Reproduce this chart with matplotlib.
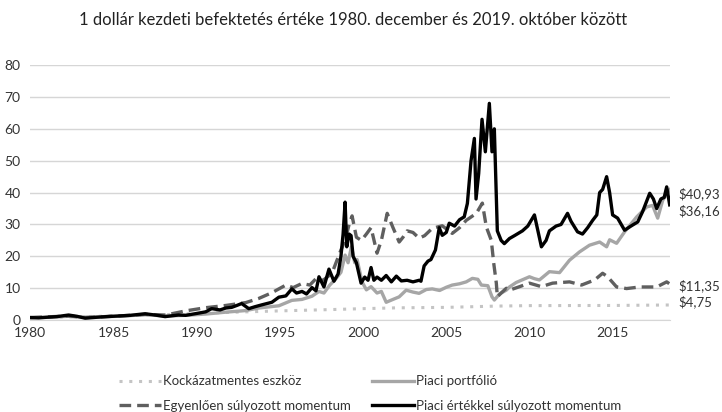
import numpy as np
import matplotlib
matplotlib.use("Agg")
import matplotlib.pyplot as plt

plt.rcParams['font.family'] = ['Lato', 'DejaVu Sans']

# --- adatok (leolvasva az ábráról) ---
vw_years = [1980.0, 1980.5, 1981.0, 1981.6, 1982.3, 1982.8, 1983.3, 1984.0, 1984.6, 1985.3,
            1986.0, 1986.9, 1987.5, 1988.1, 1988.9, 1989.34, 1990.12, 1990.54, 1990.9, 1991.4,
            1991.75, 1992.1, 1992.41, 1992.7, 1993.13, 1993.5, 1993.92, 1994.52, 1994.94, 1995.36,
            1995.72, 1996.0, 1996.33, 1996.6, 1996.93, 1997.17, 1997.35, 1997.65, 1997.95, 1998.25,
            1998.5, 1998.67, 1998.8, 1998.92, 1999.02, 1999.16, 1999.28, 1999.4, 1999.6, 1999.88,
            2000.1, 2000.3, 2000.48, 2000.65, 2000.84, 2001.1, 2001.39, 2001.7, 2002.0, 2002.3,
            2002.65, 2003.0, 2003.37, 2003.48, 2003.67, 2003.9, 2004.08, 2004.35, 2004.58, 2004.76,
            2005.0, 2005.18, 2005.5, 2005.8, 2006.08, 2006.27, 2006.49, 2006.69, 2006.79, 2006.95,
            2007.15, 2007.35, 2007.59, 2007.75, 2007.89, 2008.07, 2008.3, 2008.49, 2008.8, 2009.1,
            2009.58, 2009.9, 2010.3, 2010.72, 2011.0, 2011.2, 2011.6, 2011.9, 2012.29, 2012.5,
            2012.89, 2013.19, 2013.5, 2013.8, 2014.05, 2014.22, 2014.4, 2014.64, 2014.82, 2015.0,
            2015.3, 2015.72, 2016.1, 2016.51, 2016.8, 2017.23, 2017.45, 2017.65, 2017.9, 2018.1,
            2018.25, 2018.43]
vw_vals = [0.8, 0.7, 0.9, 1.1, 1.6, 1.2, 0.6, 0.9, 1.1, 1.3,
           1.5, 2.0, 1.6, 1.1, 1.6, 1.5, 2.2, 2.6, 3.6, 3.2,
           3.8, 4.0, 4.6, 5.2, 3.6, 4.2, 4.8, 5.6, 7.2, 7.6,
           9.8, 8.5, 9.0, 8.2, 10.2, 9.2, 13.6, 10.4, 16.0, 12.2,
           14.5, 20.0, 27.0, 37.0, 23.0, 27.0, 26.5, 20.0, 18.0, 11.6,
           13.5, 12.5, 16.5, 12.5, 13.5, 12.5, 14.0, 12.0, 13.8, 12.3,
           12.5, 12.0, 12.5, 12.2, 17.0, 18.5, 19.0, 22.0, 29.0, 26.6,
           27.5, 30.4, 29.5, 31.5, 32.4, 36.6, 50.0, 57.0, 38.0, 46.0,
           63.0, 52.8, 68.0, 52.8, 60.0, 28.0, 25.0, 24.0, 25.6, 26.5,
           28.0, 29.5, 33.0, 23.0, 25.0, 28.0, 29.5, 30.0, 33.5, 31.0,
           27.7, 27.0, 29.0, 31.3, 33.0, 40.0, 41.0, 45.0, 40.0, 33.0,
           32.0, 28.2, 29.5, 30.8, 34.0, 39.8, 38.0, 35.0, 38.0, 38.5,
           41.8, 36.16]

mkt_years = [1980.0, 1981.0, 1982.3, 1983.3, 1984.5, 1985.3, 1986.9, 1988.1, 1989.34, 1990.54,
             1991.75, 1992.95, 1993.73, 1994.94, 1995.72, 1996.33, 1996.93, 1997.35, 1997.65, 1998.0,
             1998.37, 1998.67, 1998.92, 1999.1, 1999.3, 1999.5, 1999.64, 1999.94, 2000.2, 2000.48,
             2000.84, 2001.1, 2001.39, 2001.8, 2002.17, 2002.59, 2003.0, 2003.37, 2003.8, 2004.16,
             2004.6, 2005.0, 2005.36, 2005.8, 2006.2, 2006.57, 2006.9, 2007.11, 2007.5, 2007.75,
             2007.89, 2008.2, 2008.61, 2008.8, 2009.2, 2010.0, 2010.3, 2010.6, 2011.2, 2011.81,
             2012.41, 2013.01, 2013.61, 2014.22, 2014.64, 2014.82, 2015.24, 2015.72, 2016.45, 2017.05,
             2017.4, 2017.71, 2018.01, 2018.25, 2018.43]
mkt_vals = [0.8, 0.9, 1.2, 0.9, 1.1, 1.2, 1.7, 1.3, 1.5, 1.9,
            2.5, 3.0, 3.8, 4.5, 6.2, 6.5, 7.5, 9.0, 8.5, 11.0,
            13.0, 15.0, 20.4, 18.0, 23.0, 18.0, 19.0, 12.0, 9.5, 10.5,
            8.5, 9.0, 5.6, 6.5, 7.3, 9.4, 8.8, 8.4, 9.6, 9.8,
            9.3, 10.3, 11.0, 11.4, 12.0, 13.1, 12.8, 11.0, 10.8, 7.3,
            6.3, 8.2, 9.4, 10.4, 11.8, 13.6, 13.0, 12.6, 15.2, 14.9,
            18.8, 21.4, 23.5, 24.5, 23.0, 25.2, 24.1, 27.7, 32.4, 35.5,
            36.0, 32.0, 37.6, 39.5, 40.93]

ew_years = [1980.0, 1982.3, 1983.3, 1985.3, 1986.9, 1988.13, 1989.34, 1990.54, 1991.75, 1992.95,
            1993.73, 1994.52, 1995.36, 1995.8, 1996.33, 1996.8, 1997.17, 1997.6, 1998.13, 1998.67,
            1998.92, 1999.16, 1999.34, 1999.6, 1999.9, 2000.2, 2000.48, 2000.84, 2001.1, 2001.45,
            2001.8, 2002.17, 2002.4, 2002.65, 2003.0, 2003.37, 2003.7, 2004.16, 2004.76, 2005.36,
            2005.8, 2006.2, 2006.81, 2007.17, 2007.41, 2007.71, 2007.85, 2008.01, 2008.07, 2008.3,
            2008.61, 2008.8, 2009.3, 2010.0, 2010.72, 2011.39, 2012.41, 2013.13, 2013.92, 2014.4,
            2014.7, 2015.24, 2015.84, 2016.63, 2017.65, 2018.25, 2018.43]
ew_vals = [0.8, 1.3, 0.8, 1.3, 1.8, 1.6, 2.9, 3.9, 4.6, 5.5,
           6.8, 8.6, 11.0, 10.2, 11.5, 11.0, 13.0, 12.5, 14.7, 22.0,
           25.0, 30.0, 32.7, 26.0, 25.0, 27.0, 29.0, 21.0, 25.0, 33.5,
           29.0, 24.5, 26.0, 28.0, 27.5, 25.7, 26.5, 28.8, 29.6, 27.2,
           29.0, 31.3, 33.5, 36.7, 29.2, 25.0, 18.0, 11.6, 7.3, 8.5,
           10.0, 9.4, 10.3, 11.6, 10.5, 11.6, 12.0, 11.0, 12.6, 14.7,
           13.6, 10.4, 9.9, 10.4, 10.4, 12.0, 11.35]

rf_years = [1980.0, 1982.0, 1985.0, 1988.0, 1990.0, 1993.0, 1995.0, 1998.0, 2000.0, 2002.0,
            2005.0, 2008.0, 2010.0, 2015.0, 2018.43]
rf_vals = [0.8, 0.95, 1.3, 1.7, 2.1, 2.6, 2.9, 3.3, 3.6, 3.85,
           4.0, 4.4, 4.55, 4.6, 4.75]

labels = ['Kockázatmentes eszköz', 'Egyenlően súlyozott momentum',
          'Piaci portfólió', 'Piaci értékkel súlyozott momentum']
end_values = [40.93, 36.16, 11.35, 4.75]
end_nudge = [-1.4, -1.9, -0.6, 0.9]

fig = plt.figure(figsize=(7.22, 4.12), dpi=100)
ax = fig.add_axes([0.042, 0.223, 0.886, 0.619])

rf, = ax.plot(rf_years, rf_vals, color='#c4c4c4', lw=2.2,
              linestyle=(0, (1, 2.2)), label=labels[0])
mkt, = ax.plot(mkt_years, mkt_vals, color='#a6a6a6', lw=2.4, label=labels[2])
ew, = ax.plot(ew_years, ew_vals, color='#5f5f5f', lw=2.4,
              linestyle=(0, (3.5, 1.8)), label=labels[1])
vw, = ax.plot(vw_years, vw_vals, color='#000000', lw=2.4, label=labels[3])

ax.set_xlim(1980, 2018.45)
ax.set_ylim(0, 80)
ax.set_yticks(np.arange(0, 81, 10))
ax.set_xticks(np.arange(1980, 2016, 5))
ax.grid(axis='y', color='#d6d6d6', lw=1)
ax.set_axisbelow(True)
for s in ['top', 'right', 'left']:
    ax.spines[s].set_visible(False)
ax.spines['bottom'].set_color('#d6d6d6')
ax.tick_params(axis='both', length=0, labelsize=10, colors='#333333')
ax.tick_params(axis='x', pad=5)
ax.tick_params(axis='y', pad=7)

for v, dv in zip(end_values, end_nudge):
    ax.text(2018.95, v + dv, '$' + f'{v:.2f}'.replace('.', ','),
            fontsize=9.5, color='#333333', va='center', ha='left', clip_on=False)

fig.text(0.489, 0.951, '1 dollár kezdeti befektetés értéke 1980. december és 2019. október között',
         ha='center', va='center', fontsize=12, color='#222222')

fig.legend(handles=[rf, ew, mkt, vw], loc='center', bbox_to_anchor=(0.513, 0.045),
           ncol=2, frameon=False, fontsize=9.5, handlelength=3.2, handletextpad=0.15,
           columnspacing=1.6, labelspacing=0.95, labelcolor='#333333')

fig.savefig('out.png', dpi=100)
